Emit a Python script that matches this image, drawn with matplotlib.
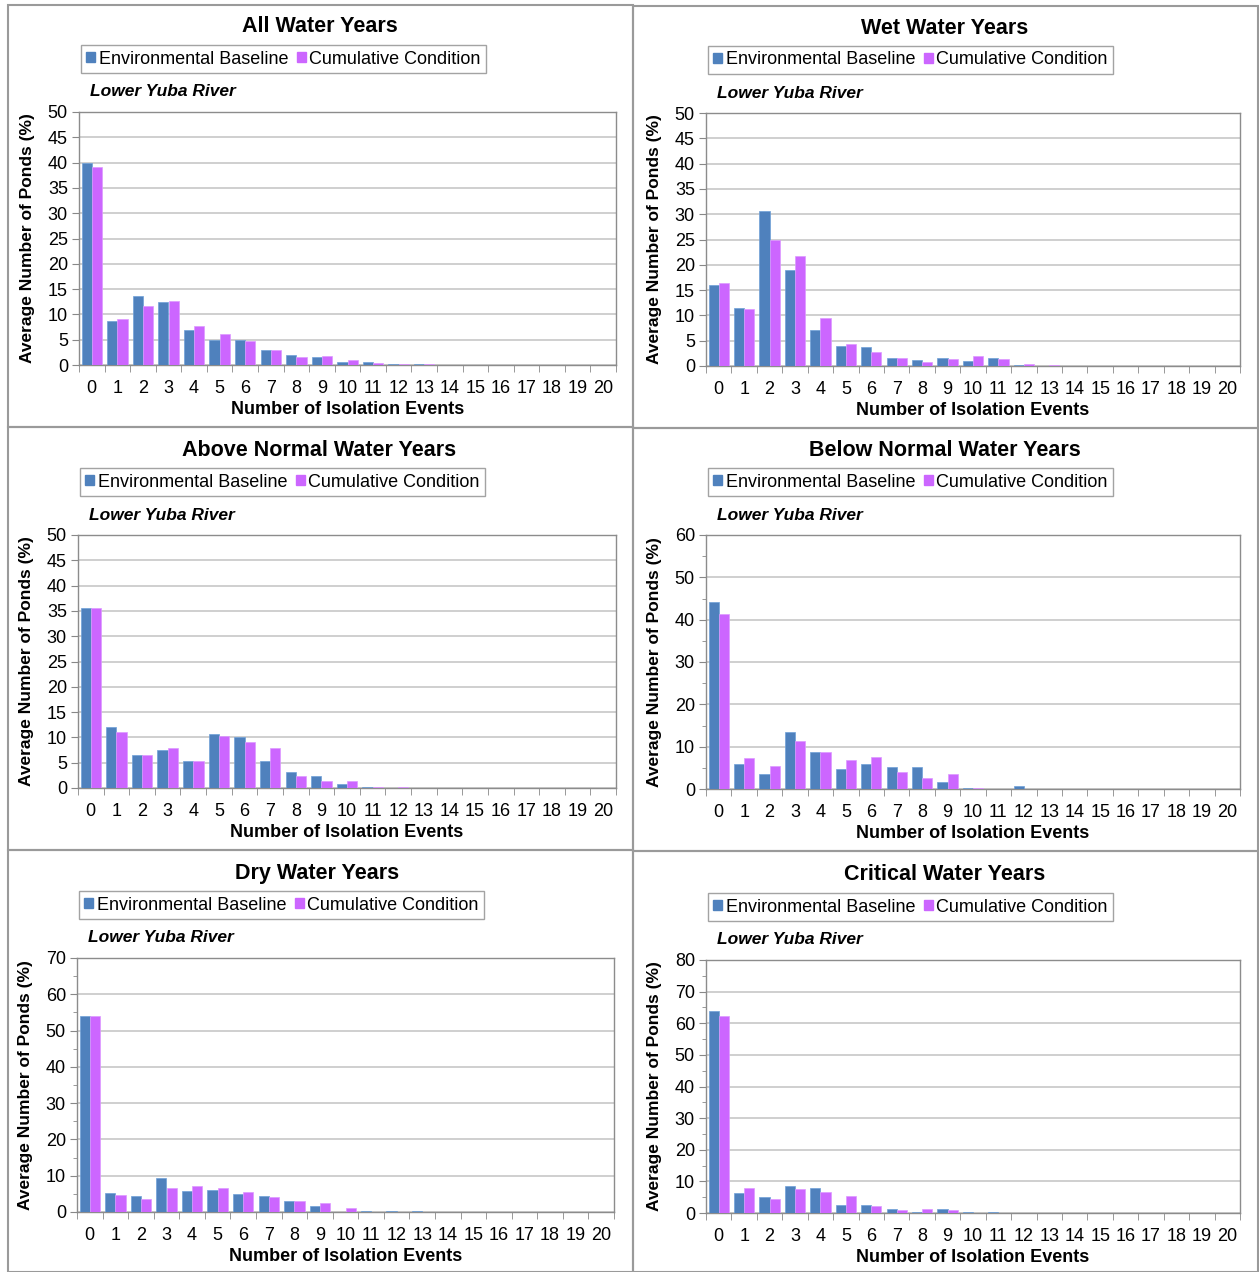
import numpy as np
import matplotlib
matplotlib.use("Agg")
import matplotlib.pyplot as plt
from matplotlib.patches import Rectangle, Patch
from matplotlib.ticker import MultipleLocator

plt.rcParams['font.family'] = ['Liberation Sans', 'DejaVu Sans']

# Data
events = np.arange(0, 21)
titles = ["All Water Years", "Wet Water Years", "Above Normal Water Years",
          "Below Normal Water Years", "Dry Water Years", "Critical Water Years"]
ymax = [50, 50, 50, 60, 70, 80]

def pad(vals):
    return np.array(vals + [0] * (21 - len(vals)), dtype=float)

# Environmental Baseline
eb_all = pad([39.9, 8.6, 13.6, 12.5, 6.9, 5.0, 4.9, 2.9, 2.05, 1.65, 0.5, 0.5, 0.25, 0.12])
eb_wet = pad([16.1, 11.5, 30.6, 18.9, 7.1, 4.0, 3.8, 1.5, 1.25, 1.65, 1.05, 1.6, 0.25, 0.0])
eb_an = pad([35.6, 12.0, 6.6, 7.6, 5.3, 10.6, 10.0, 5.3, 3.2, 2.3, 0.8, 0.26, 0.0])
eb_bn = pad([44.1, 5.8, 3.6, 13.5, 8.8, 4.7, 5.8, 5.15, 5.15, 1.75, 0.3, 0.0, 0.6])
eb_dry = pad([54.0, 5.3, 4.35, 9.4, 5.9, 6.1, 4.9, 4.35, 3.0, 1.75, 0.0, 0.28, 0.28, 0.28])
eb_crit = pad([63.9, 6.2, 5.2, 8.4, 7.8, 2.4, 2.5, 1.4, 0.2, 1.15, 0.2, 0.2])

# Cumulative Condition
cc_all = pad([39.2, 9.0, 11.6, 12.6, 7.7, 6.2, 4.7, 3.0, 1.6, 1.8, 1.05, 0.35, 0.25, 0.12])
cc_wet = pad([16.5, 11.3, 24.9, 21.7, 9.4, 4.4, 2.8, 1.5, 0.7, 1.45, 1.9, 1.3, 0.45, 0.1])
cc_an = pad([35.6, 11.0, 6.6, 7.9, 5.3, 10.2, 9.0, 7.9, 2.3, 1.3, 1.3, 0.26, 0.26])
cc_bn = pad([41.4, 7.3, 5.4, 11.3, 8.8, 6.9, 7.6, 3.9, 2.5, 3.6, 0.3, 0.0, 0.0])
cc_dry = pad([54.0, 4.6, 3.7, 6.7, 7.2, 6.7, 5.55, 4.1, 3.1, 2.5, 1.2])
cc_crit = pad([62.3, 7.8, 4.4, 7.6, 6.75, 5.5, 2.2, 0.95, 1.15, 0.95])

eb = [eb_all, eb_wet, eb_an, eb_bn, eb_dry, eb_crit]
cc = [cc_all, cc_wet, cc_an, cc_bn, cc_dry, cc_crit]

BLUE = "#4F81BD"
PINK = "#CC66FF"
W, H = 1259, 1272

fig = plt.figure(figsize=(W / 100, H / 100), dpi=100)

# pixel boxes: panel frame (l, t, r, b) and plot area (l, t, r, b)
frames = [(8, 5, 633, 427), (633, 6, 1258, 428),
          (8, 427, 633, 850), (633, 428, 1258, 851),
          (8, 850, 633, 1272), (633, 851, 1258, 1272)]
plots = [(79, 112, 616, 365), (706, 113, 1240, 366),
         (78, 535, 616, 788), (706, 535, 1240, 789),
         (77, 958, 614, 1212), (706, 960, 1240, 1213)]

def fx(px):
    return px / W

def fy(py):
    return 1 - py / H

for (l, t, r, b) in frames:
    fig.patches.append(Rectangle((fx(l), fy(b)), fx(r - l), (b - t) / H,
                                 transform=fig.transFigure, fill=False,
                                 edgecolor="#9a9a9a", linewidth=1.5))

for i in range(6):
    l, t, r, b = plots[i]
    ax = fig.add_axes([fx(l), fy(b), fx(r - l), (b - t) / H])
    ax.bar(events - 0.2, eb[i], width=0.4, color=BLUE, edgecolor="#6fa0d8",
           linewidth=0.5, zorder=3)
    ax.bar(events + 0.2, cc[i], width=0.4, color=PINK, edgecolor="#dd99ff",
           linewidth=0.5, zorder=3)
    ax.set_xlim(-0.5, 20.5)
    ax.set_ylim(0, ymax[i])
    if ymax[i] == 50:
        ax.yaxis.set_major_locator(MultipleLocator(5))
    else:
        ax.yaxis.set_major_locator(MultipleLocator(10))
        ax.yaxis.set_minor_locator(MultipleLocator(5))
    ax.set_xticks(events)
    ax.set_xticklabels([str(e) for e in events])
    ax.set_xticks(np.arange(-0.5, 21, 1), minor=True)
    ax.tick_params(axis="x", which="major", length=0, labelsize=13, pad=11)
    ax.tick_params(axis="x", which="minor", length=5, color="#888888")
    ax.tick_params(axis="y", which="major", length=5, color="#888888",
                   labelsize=13, pad=3)
    ax.tick_params(axis="y", which="minor", length=3, color="#888888")
    ax.yaxis.grid(True, color="#cccccc", linewidth=1.3, zorder=0)
    ax.set_axisbelow(True)
    for s in ax.spines.values():
        s.set_color("#8c8c8c")
        s.set_linewidth(1.0)
    ax.set_xlabel("Number of Isolation Events", fontsize=13, fontweight="bold",
                  labelpad=3)
    ax.set_ylabel("Average Number of Ponds (%)", fontsize=12.5, fontweight="bold",
                  labelpad=9)

    cx = (l + r) / 2 - 28
    fig.text(fx(cx), fy(t - 85), titles[i], ha="center", va="center",
             fontsize=15.5, fontweight="bold")
    fig.text(fx(l + 11), fy(t - 20), "Lower Yuba River", ha="left", va="center",
             fontsize=12.5, fontweight="bold", style="italic")
    handles = [Patch(facecolor=BLUE, edgecolor=BLUE, label="Environmental Baseline"),
               Patch(facecolor=PINK, edgecolor=PINK, label="Cumulative Condition")]
    leg = fig.legend(handles=handles, loc="center left",
                     bbox_to_anchor=(fx(l + 2), fy(t - 53)), ncol=2,
                     fontsize=13, frameon=True, fancybox=False,
                     handlelength=0.5, handleheight=0.5, handletextpad=0.2,
                     columnspacing=0.45, borderpad=0.3, borderaxespad=0)
    leg.get_frame().set_edgecolor("#8c8c8c")
    leg.get_frame().set_linewidth(1.0)

fig.savefig("out.png", dpi=100)
